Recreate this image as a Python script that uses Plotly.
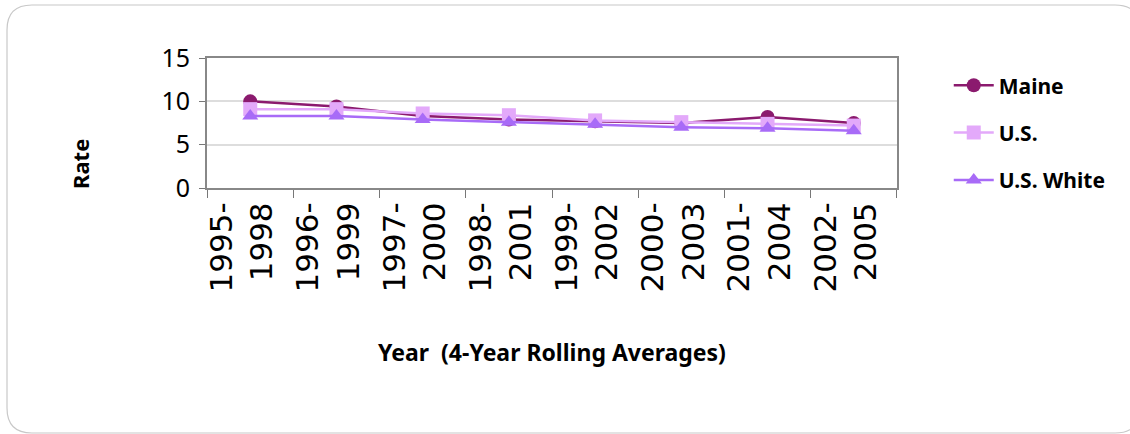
import plotly.graph_objects as go

categories = ["1995-<br>1998", "1996-<br>1999", "1997-<br>2000", "1998-<br>2001",
              "1999-<br>2002", "2000-<br>2003", "2001-<br>2004", "2002-<br>2005"]
maine = [10.0, 9.4, 8.3, 7.9, 7.7, 7.5, 8.2, 7.5]
us = [9.1, 9.1, 8.6, 8.4, 7.8, 7.6, 7.4, 7.2]
us_white = [8.3, 8.3, 7.9, 7.6, 7.35, 7.0, 6.9, 6.6]
y_ticks = [0, 5, 10, 15]

W, H = 1130, 434
L, R, T, B = 207, 233, 58, 246

FONT = "Noto Sans"

fig = go.Figure()
series = [
    ("Maine", maine, "#8B1A6E", "circle"),
    ("U.S.", us, "#E3A9FA", "square"),
    ("U.S. White", us_white, "#A86BF7", "triangle-up"),
]
for name, vals, col, sym in series:
    fig.add_trace(go.Scatter(
        x=categories, y=vals, name=name, mode="lines+markers",
        legendgroup=name,
        line=dict(color=col, width=2.5),
        marker=dict(symbol=sym, size=14, color=col),
    ))

def px(x):
    return (x - L) / (W - L - R)

def py(y):
    return (H - B - y) / (H - T - B)

x0, x1, y0, y1, r = 7, 1140, 5, 433, 25
path = (f"M {px(x0 + r)},{py(y0)} L {px(x1 - r)},{py(y0)} "
        f"Q {px(x1)},{py(y0)} {px(x1)},{py(y0 + r)} "
        f"L {px(x1)},{py(y1 - r)} Q {px(x1)},{py(y1)} {px(x1 - r)},{py(y1)} "
        f"L {px(x0 + r)},{py(y1)} Q {px(x0)},{py(y1)} {px(x0)},{py(y1 - r)} "
        f"L {px(x0)},{py(y0 + r)} Q {px(x0)},{py(y0)} {px(x0 + r)},{py(y0)} Z")
fig.add_shape(type="path", path=path, xref="paper", yref="paper",
              line=dict(color="#C8C8C8", width=1.2), layer="below")

fig.add_annotation(text="Rate", textangle=-90, xref="paper", yref="paper",
                   x=px(80), y=py(164), xanchor="center", yanchor="middle",
                   showarrow=False,
                   font=dict(size=22, family=FONT, weight="bold"))

fig.update_layout(
    width=W, height=H,
    margin=dict(l=L, r=R, t=T, b=B),
    paper_bgcolor="white", plot_bgcolor="white",
    font=dict(family=FONT, color="black"),
    showlegend=True,
    legend=dict(x=1.075, y=0.945, xanchor="left", yanchor="top",
                font=dict(size=21, family=FONT, weight="bold"), tracegroupgap=17,
                traceorder="grouped", maxheight=400,
                itemwidth=40, bgcolor="rgba(0,0,0,0)"),
    xaxis=dict(
        type="category", tickangle=-90,
        tickfont=dict(family="DejaVu Sans", size=31),
        ticks="outside", tickson="boundaries", ticklen=8, tickcolor="#777",
        ticklabelshift=-8,
        showline=True, linecolor="#888", linewidth=2, mirror=True,
        showgrid=False,
        title=dict(text="Year  (4-Year Rolling Averages)",
                   font=dict(size=23, family=FONT, weight="bold"), standoff=53),
    ),
    yaxis=dict(
        range=[0, 15], tickvals=y_ticks,
        tickfont=dict(size=25, family=FONT),
        ticks="outside", ticklen=6, tickcolor="#777",
        ticklabelstandoff=4,
        showline=True, linecolor="#888", linewidth=2, mirror=True,
        showgrid=True, gridcolor="#DDDDDD", gridwidth=1.5,
        zeroline=False,
    ),
)

fig.write_html("out.html", config={"displayModeBar": False},
               post_script="document.body.style.margin='0';")
